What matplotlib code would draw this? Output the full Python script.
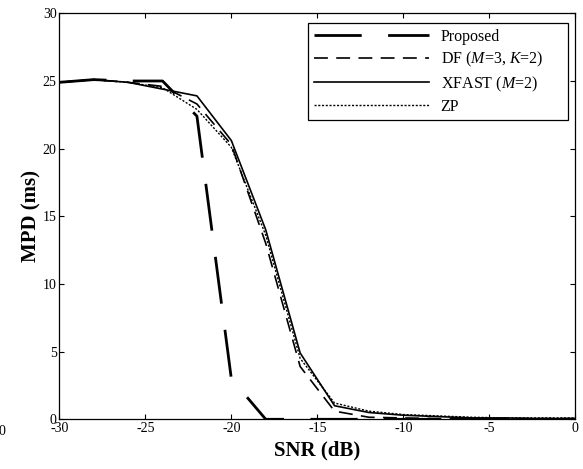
import numpy as np
import matplotlib
matplotlib.use('Agg')
import matplotlib.pyplot as plt

# SNR grid (dB) and MPD curves (ms)
snr = [-30, -28, -26, -24, -22, -20, -18, -16, -14, -12, -10, -8, -6, -4, -2, 0]

proposed = [24.9, 25.1, 25.0, 25.0, 22.4, 3.0, 0.0, 0.0, 0.0, 0.0, 0.0, 0.0, 0.0, 0.0, 0.0, 0.0]
df = [24.9, 25.1, 24.9, 24.6, 23.3, 20.3, 13.0, 3.9, 0.6, 0.15, 0.1, 0.05, 0.05, 0.05, 0.05, 0.05]
xfast = [24.9, 25.1, 24.9, 24.4, 23.9, 20.6, 14.0, 4.9, 1.0, 0.5, 0.3, 0.2, 0.1, 0.1, 0.05, 0.05]
zp = [24.9, 25.1, 24.9, 24.5, 22.9, 20.1, 13.6, 4.5, 1.2, 0.6, 0.35, 0.25, 0.15, 0.1, 0.1, 0.1]

labels = ['Proposed', 'DF ($\\mathit{M}$=3, $\\mathit{K}$=2)', 'XFAST ($\\mathit{M}$=2)', 'ZP']

plt.rcParams['font.family'] = ['Liberation Serif', 'DejaVu Serif']
plt.rcParams['mathtext.fontset'] = 'custom'
plt.rcParams['mathtext.it'] = 'Liberation Serif:italic'
plt.rcParams['mathtext.rm'] = 'Liberation Serif'
plt.rcParams['lines.scale_dashes'] = False
plt.rcParams['axes.unicode_minus'] = False

fig = plt.figure(figsize=(5.83, 4.69), dpi=100)
ax = fig.add_axes([0.1017, 0.106, 0.8853, 0.8656])

ax.plot(snr, proposed, color='black', lw=2.0, dashes=(34, 19), label=labels[0])
ax.plot(snr, df, color='black', lw=1.2, dashes=(10, 6), label=labels[1])
ax.plot(snr, xfast, color='black', lw=1.2, label=labels[2])
ax.plot(snr, zp, color='black', lw=1.0, dashes=(1.5, 1.2), label=labels[3])

ax.set_xlim(-30, 0)
ax.set_ylim(0, 30)
ax.set_xticks([-30, -25, -20, -15, -10, -5, 0])
ax.set_yticks([0, 5, 10, 15, 20, 25, 30])
ax.tick_params(direction='in', top=True, right=True, length=3.5, width=0.8,
               labelsize=10, pad=2)
for s in ax.spines.values():
    s.set_linewidth(0.9)

ax.set_xlabel('SNR (dB)', fontsize=15, fontweight='bold', labelpad=4)
ax.set_ylabel('MPD (ms)', fontsize=15, fontweight='bold', labelpad=1)

leg = ax.legend(loc='upper left', bbox_to_anchor=(0.482, 0.737, 0.504, 0.239),
                mode='expand', borderaxespad=0,
                fontsize=11.5, handlelength=7.2, handletextpad=0.75, labelspacing=0.33,
                fancybox=False, framealpha=1, edgecolor='black', borderpad=0.35)
leg.get_frame().set_linewidth(0.9)

# cut-off label of a neighbouring panel at the left edge
fig.text(0.004, 0.079, '0', fontsize=10, ha='center', va='center')

fig.savefig('out.png', dpi=100)
